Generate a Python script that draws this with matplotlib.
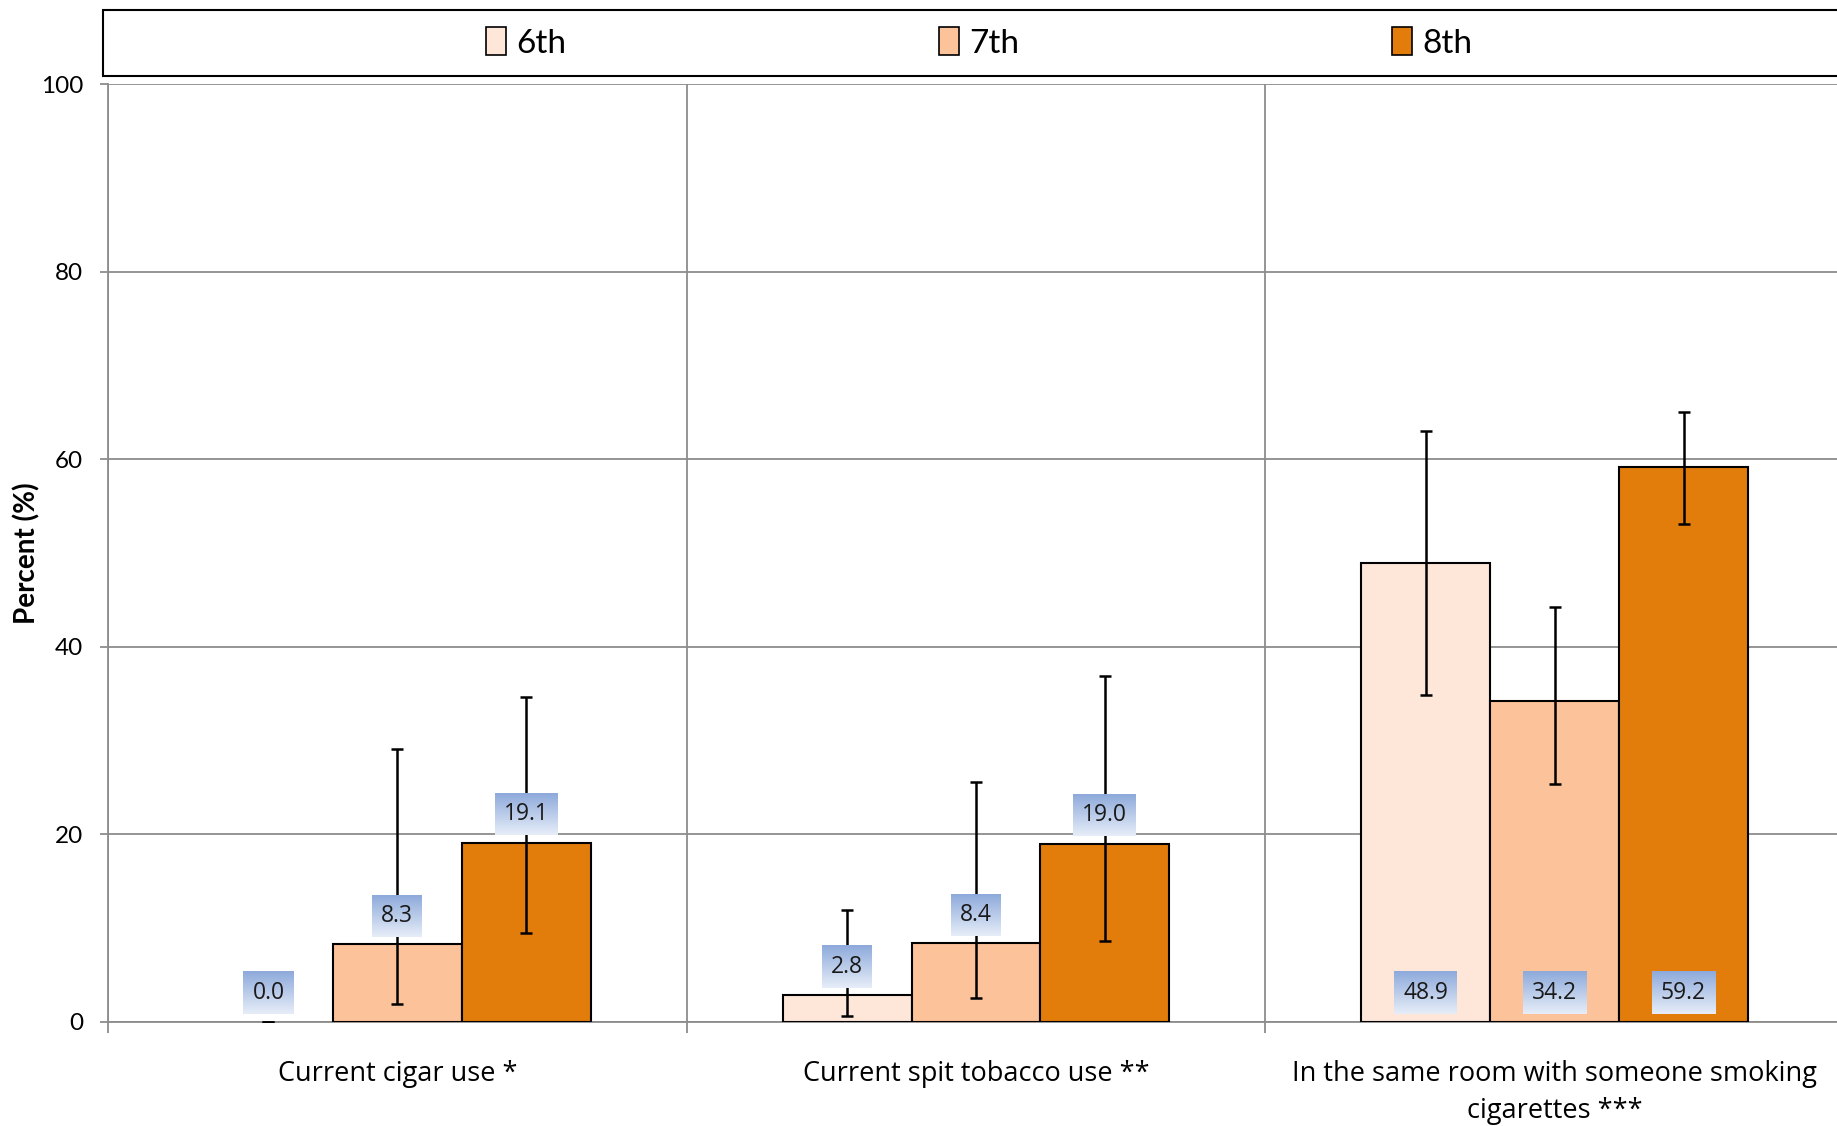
import numpy as np
import matplotlib
matplotlib.use('Agg')
import matplotlib.pyplot as plt
from matplotlib.patches import Rectangle
from matplotlib.colors import LinearSegmentedColormap

# data
categories = ['Current cigar use *', 'Current spit tobacco use **',
              'In the same room with someone smoking\ncigarettes ***']
grades = ['6th', '7th', '8th']
values = {
    '6th': [0.0, 2.8, 48.9],
    '7th': [8.3, 8.4, 34.2],
    '8th': [19.1, 19.0, 59.2],
}
ci_low = {
    '6th': [0.0, 0.6, 34.9],
    '7th': [1.9, 2.5, 25.4],
    '8th': [9.5, 8.6, 53.1],
}
ci_high = {
    '6th': [0.0, 11.9, 63.0],
    '7th': [29.1, 25.6, 44.2],
    '8th': [34.6, 36.9, 65.0],
}
# where the value box goes: above the bar or at its base
label_mode = ['above', 'above', 'base']

COLORS = {'6th': '#fee6d9', '7th': '#fcc39b', '8th': '#e27c0b'}
GRID = '#8c8c8c'

W, H = 1837, 1126
fig = plt.figure(figsize=(W / 100, H / 100), dpi=100)
ax = fig.add_axes([108 / W, 1 - 1021.6 / H, (1844 - 108) / W, (1021.6 - 84.4) / H])

bar_w = 0.2227
x = np.arange(len(categories)) + 0.5
label_texts = []
for i, g in enumerate(grades):
    xs = x + (i - 1) * bar_w
    vals = np.array(values[g])
    ax.bar(xs, vals, width=bar_w, color=COLORS[g],
           edgecolor=['black' if v > 0 else 'none' for v in vals],
           linewidth=1.5, zorder=3, label=g)
    lo = vals - np.array(ci_low[g])
    hi = np.array(ci_high[g]) - vals
    ax.errorbar(xs, vals, yerr=[lo, hi],
                fmt='none', ecolor='black', elinewidth=1.8, capsize=4.5,
                capthick=1.8, zorder=4)
    for j, v in enumerate(vals):
        ypos = v + 3 if label_mode[j] == 'above' else 3
        t = ax.text(xs[j], ypos, f'{v:.1f}', ha='center', va='center',
                    fontsize=16.5, family='Open Sans', color='#1a1a1a', zorder=6)
        label_texts.append(t)

ax.set_xlim(0, 3)
ax.set_ylim(0, 100)
ax.set_yticks(np.arange(0, 101, 20))
ax.set_xticks([0, 1, 2, 3])
ax.set_xticklabels([])
ax.set_xticks(x, minor=True)
ax.set_xticklabels(categories, minor=True, fontsize=19.5, family='Open Sans',
                   linespacing=1.4)
ax.tick_params(axis='x', which='minor', length=0, pad=28)
ax.tick_params(axis='x', which='major', length=8, color=GRID, width=1.3)
ax.tick_params(axis='y', length=6, color=GRID, width=1.3, labelsize=17.5, pad=12)
for lab in ax.get_yticklabels():
    lab.set_family('Lato')
ax.grid(True, color=GRID, linewidth=1.3, zorder=0)
ax.set_axisbelow(True)
for s in ['top', 'right']:
    ax.spines[s].set_visible(False)
for s in ['left', 'bottom']:
    ax.spines[s].set_color(GRID)
    ax.spines[s].set_linewidth(1.3)
ax.set_ylabel('Percent (%)', fontsize=20, fontweight='bold', family='Lato')
ax.yaxis.set_label_coords(-0.039, 0.5)

# legend box running off the right edge
fig.patches.append(Rectangle((103 / W, 1 - 76 / H), 1.0, 66 / H, transform=fig.transFigure,
                             facecolor='white', edgecolor='black', linewidth=1.5))
leg = fig.legend(loc='center', bbox_to_anchor=(0.533, 1 - 43 / H), ncol=3,
                 frameon=False, prop={'family': 'Lato', 'size': 24},
                 handlelength=0.6, handleheight=0.9, handletextpad=0.3,
                 columnspacing=11.2)
for h in leg.legend_handles:
    h.set_edgecolor('black')
    h.set_linewidth(1.2)

# gradient boxes behind the value labels
cmap = LinearSegmentedColormap.from_list('lbl', ['#8eaadb', '#e6edf8'])
grad = np.linspace(0, 1, 64).reshape(-1, 1)
fig.canvas.draw()
renderer = fig.canvas.get_renderer()
inv = ax.transData.inverted()
for t in label_texts:
    bb = t.get_window_extent(renderer)
    cx = (bb.x0 + bb.x1) / 2
    cy = (bb.y0 + bb.y1) / 2
    half_w = bb.width / 2 + 9
    half_h = 21
    (x0, y0), (x1, y1) = inv.transform([[cx - half_w, cy - half_h], [cx + half_w, cy + half_h]])
    ax.imshow(grad, extent=[x0, x1, y0, y1], aspect='auto', cmap=cmap,
              origin='upper', zorder=5, interpolation='bilinear')
ax.set_xlim(0, 3)
ax.set_ylim(0, 100)

fig.savefig('out.png', dpi=100)
